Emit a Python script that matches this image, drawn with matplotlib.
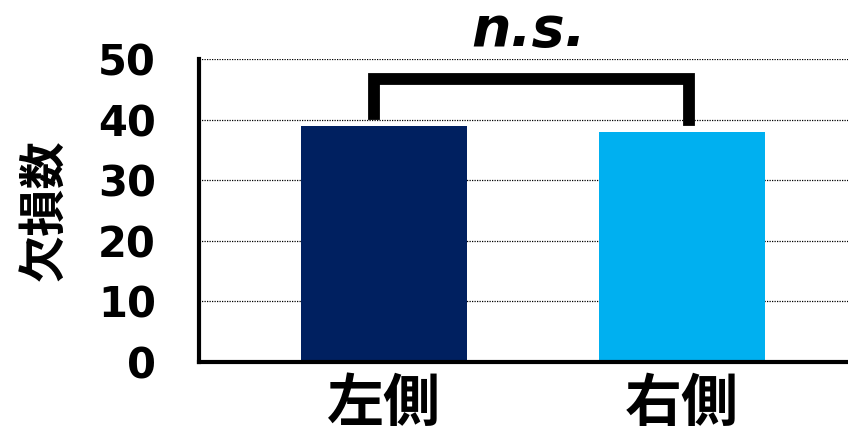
import matplotlib.pyplot as plt

plt.rcParams['font.family'] = ['Noto Sans CJK JP', 'DejaVu Sans']

## Data
groups = ['左側', '右側']
counts = [39, 38]
colors = ['#002060', '#00B0F0']
y_ticks = [0, 10, 20, 30, 40, 50]

## Bracket (data coords)
br_x = [-0.035, 1.025]
br_top = 46.7
br_feet = [41, 40]

fig = plt.figure(figsize=(8.48, 4.41), dpi=100)
ax = fig.add_axes([0.2347, 0.179, 0.7653, 0.687])

x = list(range(len(groups)))
ax.bar(x, counts, width=0.557, color=colors, zorder=3)

ax.set_ylim(0, 50)
ax.set_xlim(-0.621, 1.557)
ax.set_yticks(y_ticks)
ax.set_yticklabels([str(v) for v in y_ticks], fontsize=30, fontweight='bold',
                   family='DejaVu Sans')
ax.set_xticks(x)
ax.set_xticklabels(groups, fontsize=41, fontweight='bold')
ax.tick_params(axis='y', length=0, pad=31)
ax.tick_params(axis='x', length=0, pad=9)

ax.yaxis.grid(True, linestyle=(0, (1, 1)), color='black', linewidth=0.9, zorder=0)
ax.set_axisbelow(True)

for side in ['top', 'right']:
    ax.spines[side].set_visible(False)
for side in ['left', 'bottom']:
    ax.spines[side].set_linewidth(3)
    ax.spines[side].set_zorder(4)

ax.set_ylabel('欠損数', fontsize=34, fontweight='bold')
ax.yaxis.set_label_coords(-0.2, 0.5)

# significance bracket
ax.plot([br_x[0], br_x[0], br_x[1], br_x[1]],
        [br_feet[0], br_top, br_top, br_feet[1]],
        color='black', linewidth=8.5, solid_joinstyle='miter', zorder=5)
ax.text(0.486, 52.1, 'n.s.', ha='center', va='baseline',
        fontsize=40, fontweight='bold', fontstyle='italic',
        family='DejaVu Sans', clip_on=False)

fig.savefig('out.png', dpi=100)
